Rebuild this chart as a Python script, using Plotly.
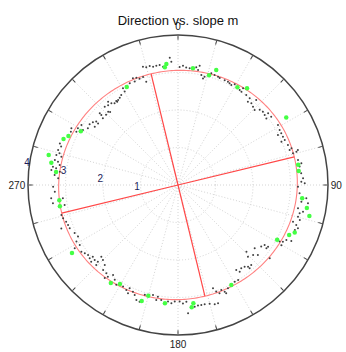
import numpy as np
import plotly.graph_objects as go

# Direction (degrees, clockwise from north) and slope m of each sample
black_theta = [343.5, 344.9, 346.6, 348.1, 349.7, 351.3, 352.8, 356.3, 356.9, 337.1,
               338.8, 340.1, 342.1, 342.9, 337.3, 334.6, 330.4, 330.3, 327.8, 326.3,
               324.8, 320.0, 320.8, 322.2, 323.7, 318.8, 316.9, 323.9, 312.5, 312.4,
               316.4, 314.3, 317.1, 307.8, 307.6, 311.6, 304.5, 306.4, 305.0, 302.2,
               301.8, 299.6, 297.7, 300.1, 298.0, 296.4, 289.4, 288.2, 286.3, 285.0,
               283.8, 283.6, 281.5, 281.0, 279.6, 278.3, 277.8, 276.8, 276.4, 274.6,
               273.2, 0.8, 2.4, 4.0, 5.7, 8.8, 10.3, 9.9, 12.0, 13.8,
               16.6, 18.4, 20.3, 21.3, 13.2, 24.0, 25.8, 26.9, 28.1, 29.4,
               33.0, 34.2, 33.9, 37.2, 39.6, 40.0, 41.9, 43.8, 45.6, 42.6,
               47.4, 49.2, 51.1, 51.5, 53.8, 53.0, 59.0, 61.6, 63.4, 63.4,
               65.3, 67.1, 67.3, 70.0, 72.6, 72.1, 74.6, 74.3, 73.7, 78.2,
               80.0, 81.4, 84.6, 86.9, 88.5, 89.2, 269.2, 266.9, 264.0, 261.7,
               263.4, 260.0, 255.6, 253.8, 249.6, 251.8, 248.2, 250.0, 245.1, 242.7,
               240.9, 238.6, 238.5, 235.4, 233.8, 232.1, 230.3, 229.9, 228.0, 226.2,
               226.9, 225.0, 222.5, 225.6, 228.5, 221.4, 219.1, 217.4, 215.8, 218.2,
               213.7, 211.7, 208.4, 206.2, 205.1, 202.9, 204.8, 201.5, 199.9, 198.2,
               196.8, 192.8, 190.2, 188.3, 184.9, 183.2, 181.6, 190.7, 179.2, 177.6,
               175.9, 175.5, 172.2, 170.6, 169.0, 167.4, 165.1, 162.9, 161.3, 161.3,
               160.3, 159.0, 157.6, 156.4, 154.2, 156.0, 145.6, 144.6, 142.8, 140.8,
               139.4, 137.5, 139.3, 147.7, 149.6, 134.3, 135.7, 133.0, 129.5, 131.2,
               126.5, 124.7, 124.4, 128.6, 125.6, 119.1, 118.4, 116.9, 116.3, 120.2,
               107.7, 108.7, 111.1, 109.8, 106.0, 90.8, 93.9, 97.7, 101.0, 103.1,
               102.1, 95.9, 98.0, 104.8]
black_m = [3.29, 3.25, 3.26, 3.22, 3.23, 3.24, 3.18, 3.40, 3.29, 3.09,
           3.07, 3.01, 3.03, 2.88, 2.99, 3.00, 2.97, 2.87, 2.84, 2.80,
           2.77, 2.90, 2.81, 2.76, 2.78, 2.83, 2.86, 2.75, 2.83, 2.77,
           2.70, 2.68, 2.66, 2.76, 2.69, 2.68, 2.86, 2.82, 2.71, 2.84,
           3.03, 3.07, 3.06, 2.93, 3.22, 3.19, 3.34, 3.28, 3.33, 3.27,
           3.34, 3.20, 3.35, 3.26, 3.20, 3.37, 3.28, 3.40, 3.17, 3.30,
           3.20, 3.15, 3.18, 3.14, 3.13, 3.18, 3.23, 3.11, 3.00, 2.97,
           3.11, 3.09, 3.08, 3.06, 2.92, 3.06, 3.06, 3.04, 3.02, 3.08,
           3.02, 3.01, 3.11, 3.01, 3.00, 2.90, 2.93, 2.89, 2.86, 3.08,
           2.96, 2.99, 2.97, 3.07, 3.08, 2.95, 3.11, 3.08, 3.08, 2.98,
           3.08, 3.09, 2.99, 3.12, 3.12, 3.18, 3.18, 3.28, 3.33, 3.27,
           3.34, 3.28, 3.30, 3.34, 3.29, 3.38, 3.33, 3.29, 3.40, 3.37,
           3.09, 3.07, 3.21, 3.19, 3.32, 3.14, 3.11, 3.12, 3.04, 3.00,
           3.10, 3.07, 3.23, 3.13, 3.08, 3.04, 3.06, 2.97, 2.99, 2.96,
           2.80, 2.83, 2.89, 3.05, 3.09, 3.02, 3.03, 3.08, 2.96, 3.16,
           3.04, 3.13, 3.08, 3.12, 3.04, 3.09, 3.18, 3.15, 3.26, 3.28,
           3.06, 3.01, 3.03, 3.10, 3.12, 3.16, 3.11, 3.12, 3.11, 3.16,
           3.12, 3.43, 3.28, 3.26, 3.26, 3.26, 3.28, 3.33, 3.33, 2.91,
           3.02, 3.09, 3.03, 3.11, 3.06, 3.16, 2.75, 2.84, 2.79, 2.81,
           2.87, 2.89, 2.93, 3.00, 2.99, 2.55, 2.67, 2.74, 2.65, 2.83,
           2.76, 2.81, 2.91, 3.13, 2.90, 3.10, 3.18, 3.24, 3.37, 3.19,
           3.22, 3.33, 3.34, 3.40, 3.38, 3.20, 3.25, 3.32, 3.26, 3.33,
           3.41, 3.44, 3.50, 3.31]

green_theta = [354.5, 353.6, 332.4, 298.9, 294.1, 291.9, 283.1, 280.0, 276.1, 7.3,
               15.8, 18.4, 31.3, 35.5, 58.1, 80.4, 83.4, 262.7, 259.8, 237.3,
               214.4, 210.4, 195.0, 197.4, 186.3, 96.1, 100.1, 103.3, 112.1, 114.2,
               118.9, 151.9, 172.6, 173.6]
green_m = [3.24, 3.16, 2.95, 2.96, 3.20, 3.29, 3.54, 3.43, 3.27, 3.14,
           3.04, 3.23, 3.05, 3.17, 3.40, 3.25, 3.24, 3.19, 3.20, 3.36,
           3.17, 3.06, 3.06, 3.24, 3.17, 3.33, 3.49, 3.60, 3.36, 3.25,
           3.02, 3.02, 3.18, 3.28]

# Fitted ellipse: semi-axes and the direction of the major axis
ell_major = 3.19
ell_minor = 3.05
ell_dir = 76.4

angle_ticks = list(range(0, 360, 15))
angle_labels = {0: "0", 90: "90", 180: "180", 270: "270"}
radial_ticks = [1, 2, 3, 4]
radial_label_angle = 168  # where the radial labels sit (degrees, counterclockwise from east)

# Ellipse outline in compass coordinates
t = np.linspace(0, 2 * np.pi, 361)
u = np.radians(ell_dir)
v = np.radians(ell_dir - 90)
east = ell_major * np.cos(t) * np.sin(u) + ell_minor * np.sin(t) * np.sin(v)
north = ell_major * np.cos(t) * np.cos(u) + ell_minor * np.sin(t) * np.cos(v)
ell_r = np.hypot(east, north)
ell_theta = np.degrees(np.arctan2(east, north)) % 360

fig = go.Figure()

fig.add_trace(go.Scatterpolar(
    r=ell_r, theta=ell_theta, mode="lines",
    line=dict(color="#ff8080", width=1.1), hoverinfo="skip"))

# Principal axes of the ellipse
fig.add_trace(go.Scatterpolar(
    r=[ell_major, 0, ell_major], theta=[ell_dir, ell_dir, ell_dir + 180],
    mode="lines", line=dict(color="#ff4848", width=1.2), hoverinfo="skip"))
fig.add_trace(go.Scatterpolar(
    r=[ell_minor, 0, ell_minor], theta=[ell_dir - 90, ell_dir - 90, ell_dir + 90],
    mode="lines", line=dict(color="#ff4848", width=1.2), hoverinfo="skip"))

fig.add_trace(go.Scatterpolar(
    r=black_m, theta=black_theta, mode="markers",
    marker=dict(color="#404040", size=2, line=dict(width=0))))
fig.add_trace(go.Scatterpolar(
    r=green_m, theta=green_theta, mode="markers",
    marker=dict(color="#44ff44", size=4.5, line=dict(width=0))))

fig.update_layout(
    width=346, height=352,
    margin=dict(l=28, r=18, t=35, b=17),
    paper_bgcolor="white",
    showlegend=False,
    font=dict(family="Liberation Sans, Arial, sans-serif", color="#222222"),
    title=dict(text="Direction vs. slope m", x=0.5, xref="paper",
               y=1 - 20 / 352, yref="container", yanchor="middle", xanchor="center",
               font=dict(size=13, color="#111111")),
    polar=dict(
        bgcolor="white",
        angularaxis=dict(
            direction="clockwise", rotation=90,
            tickmode="array", tickvals=angle_ticks,
            ticktext=[angle_labels.get(a, "") for a in angle_ticks],
            ticks="inside", ticklen=4, tickcolor="#444444",
            showline=True, linecolor="#444444", linewidth=1.5,
            showgrid=True, gridcolor="#d4d4d4", griddash="1px,2px", gridwidth=1,
            tickfont=dict(size=10, color="#222222"),
        ),
        radialaxis=dict(
            range=[0, 4], tickmode="array", tickvals=radial_ticks,
            ticktext=[str(v) for v in radial_ticks],
            angle=radial_label_angle, tickangle=radial_label_angle,
            side="counterclockwise",
            showline=False, ticks="",
            showgrid=True, gridcolor="#d4d4d4", griddash="1px,2px", gridwidth=1,
            tickfont=dict(size=10, color="#1c1c5a"),
        ),
    ),
)

fig.write_html("out.html")
